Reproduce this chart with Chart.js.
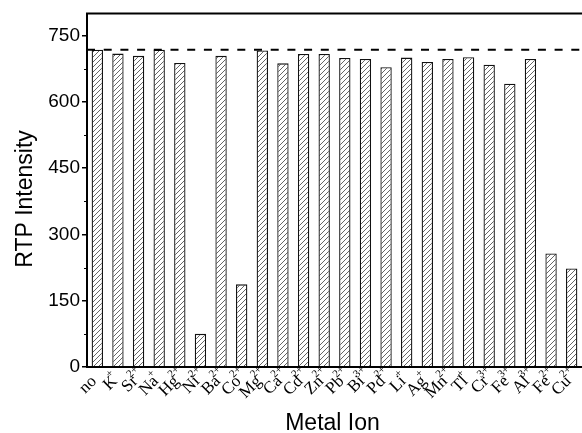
<!DOCTYPE html>
<html>
<head>
<meta charset="utf-8">
<script src="https://cdn.jsdelivr.net/npm/chart.js@4/dist/chart.umd.min.js"></script>
<style>
  html, body { margin: 0; padding: 0; background: #fff; overflow: hidden; }
  #wrap { width: 582px; height: 433px; }
  canvas { display: block; background: #fff; }
</style>
</head>
<body>
<div id="wrap"><canvas id="chart" width="582" height="433"></canvas></div>
<script>
// Ion symbols and their charges (charge drawn as superscript)
const ionSymbols = ['no', 'K', 'Sr', 'Na', 'Hg', 'Ni', 'Ba', 'Co', 'Mg', 'Ca', 'Cd', 'Zn',
                    'Pb', 'Bi', 'Pd', 'Li', 'Ag', 'Mn', 'Tl', 'Cr', 'Fe', 'Al', 'Fe', 'Cu'];
const ionCharges = ['', '+', '2+', '+', '2+', '2+', '2+', '2+', '2+', '2+', '2+', '2+',
                    '2+', '3+', '2+', '+', '+', '2+', '+', '3+', '3+', '3+', '2+', '2+'];
// RTP intensity for each ion
const rtpIntensity = [718, 709, 704, 718, 688, 75, 704, 187, 716, 687, 708, 708,
                      699, 697, 678, 700, 690, 697, 701, 684, 641, 697, 257, 223];
// Y axis ticks
const yTicks = [0, 150, 300, 450, 600, 750];
const yMinorTicks = [75, 225, 375, 525, 675];
// Dashed reference level (blank sample)
const referenceLevel = 718;

const categories = ionSymbols.map((s, i) => s + ionCharges[i]);

// Diagonal hatch fill for the bars
function makeHatch() {
  const size = 5;
  const c = document.createElement('canvas');
  c.width = size; c.height = size;
  const g = c.getContext('2d');
  g.fillStyle = '#fff';
  g.fillRect(0, 0, size, size);
  g.strokeStyle = '#555';
  g.lineWidth = 0.9;
  g.beginPath();
  g.moveTo(0, size); g.lineTo(size, 0);
  g.moveTo(-1, 1); g.lineTo(1, -1);
  g.moveTo(size - 1, size + 1); g.lineTo(size + 1, size - 1);
  g.stroke();
  return g.createPattern(c, 'repeat');
}

const framePlugin = {
  id: 'frame',
  afterDraw(chart) {
    const ctx = chart.ctx;
    const a = chart.chartArea;
    const y = chart.scales.y;
    const x = chart.scales.x;
    ctx.save();
    ctx.strokeStyle = '#000';
    ctx.lineWidth = 2;
    // axes and top border
    ctx.beginPath();
    ctx.moveTo(a.left, a.top); ctx.lineTo(a.left, a.bottom);
    ctx.moveTo(a.left - 1, a.bottom); ctx.lineTo(chart.width, a.bottom);
    ctx.moveTo(a.left - 1, a.top); ctx.lineTo(chart.width, a.top);
    ctx.stroke();
    // minor ticks
    ctx.lineWidth = 1.2;
    ctx.beginPath();
    yMinorTicks.forEach(v => {
      const py = Math.round(y.getPixelForValue(v)) + 0.5;
      ctx.moveTo(a.left - 3, py); ctx.lineTo(a.left, py);
    });
    ctx.stroke();
    // dashed reference line
    ctx.setLineDash([8, 8.7]);
    ctx.lineWidth = 2;
    ctx.beginPath();
    const ry = y.getPixelForValue(referenceLevel);
    ctx.moveTo(a.left, ry); ctx.lineTo(chart.width, ry);
    ctx.stroke();
    ctx.setLineDash([]);

    // rotated category labels with superscript charges
    ctx.fillStyle = '#000';
    ionSymbols.forEach((sym, i) => {
      const cx = x.getPixelForValue(i);
      ctx.save();
      ctx.translate(cx, a.bottom + 15);
      ctx.rotate(-Math.PI / 4);
      ctx.font = '17px "Liberation Serif", serif';
      ctx.textAlign = 'right';
      ctx.textBaseline = 'alphabetic';
      ctx.fillText(sym, 0, 0);
      if (ionCharges[i]) {
        ctx.font = '11px "Liberation Serif", serif';
        ctx.textAlign = 'left';
        ctx.fillText(ionCharges[i], -3, -8.5);
      }
      ctx.restore();
    });

    // axis titles
    ctx.font = '23px "Liberation Sans", Arial, sans-serif';
    ctx.textAlign = 'center';
    ctx.textBaseline = 'alphabetic';
    ctx.fillText('Metal Ion', (a.left + a.right) / 2 - 2, 429.5);
    ctx.save();
    ctx.translate(32, 199);
    ctx.rotate(-Math.PI / 2);
    ctx.fillText('RTP Intensity', 0, 0);
    ctx.restore();
    ctx.restore();
  }
};

new Chart(document.getElementById('chart'), {
  type: 'bar',
  data: {
    labels: categories,
    datasets: [{
      data: rtpIntensity,
      backgroundColor: makeHatch(),
      borderColor: '#111',
      borderWidth: 1.3,
      barPercentage: 0.55,
      categoryPercentage: 1
    }]
  },
  options: {
    responsive: false,
    animation: false,
    layout: { padding: { top: 13, right: 0, left: 0, bottom: 0 } },
    plugins: { legend: { display: false }, tooltip: { enabled: false } },
    scales: {
      x: {
        type: 'category',
        offset: true,
        grid: { display: false },
        border: { display: false },
        ticks: { display: false },
        afterFit(s) { s.height = 66; }
      },
      y: {
        min: 0,
        max: 800,
        afterBuildTicks(s) { s.ticks = yTicks.map(v => ({ value: v })); },
        ticks: {
          color: '#000',
          padding: 2,
          font: { family: '"Liberation Sans", Arial, sans-serif', size: 19 }
        },
        grid: { drawOnChartArea: false, tickLength: 5, color: '#000', lineWidth: 1.5 },
        border: { display: false },
        afterFit(s) { s.width = 87; }
      }
    }
  },
  plugins: [framePlugin]
});
</script>
</body>
</html>
